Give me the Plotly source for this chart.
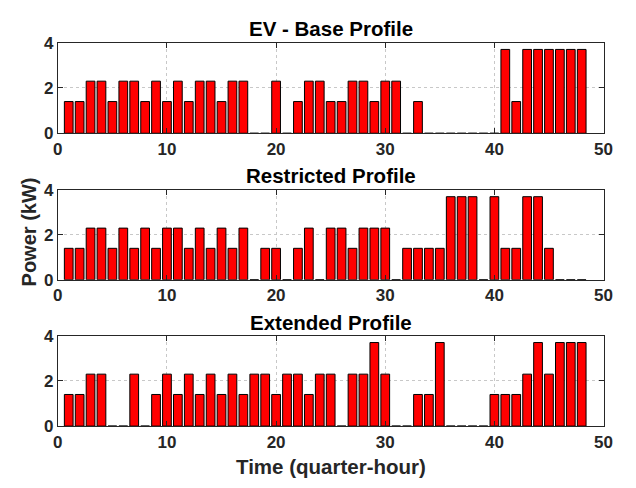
import plotly.graph_objects as go

# Charging power per quarter-hour slot (kW)
slots = list(range(1, 49))

base_profile = [1.4, 1.4, 2.3, 2.3, 1.4, 2.3, 2.3, 1.4, 2.3, 1.4,
                2.3, 1.4, 2.3, 2.3, 1.4, 2.3, 2.3, 0, 0, 2.3,
                0, 1.4, 2.3, 2.3, 1.4, 1.4, 2.3, 2.3, 1.4, 2.3,
                2.3, 0, 1.4, 0, 0, 0, 0, 0, 0, 0,
                3.7, 1.4, 3.7, 3.7, 3.7, 3.7, 3.7, 3.7]

restricted_profile = [1.4, 1.4, 2.3, 2.3, 1.4, 2.3, 1.4, 2.3, 1.4, 2.3,
                      2.3, 1.4, 2.3, 1.4, 2.3, 1.4, 2.3, 0, 1.4, 1.4,
                      0, 1.4, 2.3, 0, 2.3, 2.3, 1.4, 2.3, 2.3, 2.3,
                      0, 1.4, 1.4, 1.4, 1.4, 3.7, 3.7, 3.7, 0, 3.7,
                      1.4, 1.4, 3.7, 3.7, 1.4, 0, 0, 0]

extended_profile = [1.4, 1.4, 2.3, 2.3, 0, 0, 2.3, 0, 1.4, 2.3,
                    1.4, 2.3, 1.4, 2.3, 1.4, 2.3, 1.4, 2.3, 2.3, 1.4,
                    2.3, 2.3, 1.4, 2.3, 2.3, 0, 2.3, 2.3, 3.7, 2.3,
                    0, 0, 1.4, 1.4, 3.7, 0, 0, 0, 0, 1.4,
                    1.4, 1.4, 2.3, 3.7, 2.3, 3.7, 3.7, 3.7]

panel_titles = ["EV - Base Profile", "Restricted Profile", "Extended Profile"]
profiles = [base_profile, restricted_profile, extended_profile]

x_ticks = [0, 10, 20, 30, 40, 50]
y_ticks = [0, 2, 4]

W, H = 636, 488
x_left, x_right = 54, 612
# (top, bottom) pixel rows of each panel
panel_rows = [(35, 129.3), (188.3, 281.7), (340, 434)]
title_rows = [20, 173, 326]

FONT = "Liberation Sans, Arial, sans-serif"
INK = "#262626"

fig = go.Figure()
layout = dict(
    width=W, height=H,
    margin=dict(l=0, r=0, t=0, b=0),
    paper_bgcolor="white", plot_bgcolor="white",
    showlegend=False,
    bargap=0.2,
    font=dict(family=FONT, color=INK, size=17, weight="bold"),
    annotations=[],
)

for i, (vals, title) in enumerate(zip(profiles, panel_titles)):
    n = i + 1
    xa = "x" if n == 1 else f"x{n}"
    ya = "y" if n == 1 else f"y{n}"
    fig.add_trace(go.Bar(
        x=slots, y=vals, xaxis=xa, yaxis=ya,
        width=0.8,
        marker=dict(color="#FF0000", line=dict(color="black", width=1)),
        hoverinfo="x+y",
    ))
    top, bot = panel_rows[i]
    axis_common = dict(
        showline=True, linecolor=INK, linewidth=1, mirror="ticks",
        ticks="inside", ticklen=5, tickcolor=INK,
        showgrid=True, gridcolor="#c8c8c8", griddash="dot", gridwidth=1,
        zeroline=False,
        tickfont=dict(family=FONT, color=INK, size=17, weight="bold"),
    )
    layout["xaxis" if n == 1 else f"xaxis{n}"] = dict(
        axis_common, domain=[x_left / W, x_right / W], range=[0, 50],
        tickvals=x_ticks, anchor=ya,
    )
    layout["yaxis" if n == 1 else f"yaxis{n}"] = dict(
        axis_common, domain=[1 - bot / H, 1 - top / H], range=[0, 4],
        tickvals=y_ticks, anchor=xa,
    )
    layout["annotations"].append(dict(
        text=title, xref="paper", yref="paper",
        x=(x_left + x_right) / 2 / W, y=1 - title_rows[i] / H,
        xanchor="center", yanchor="middle", showarrow=False,
        font=dict(family=FONT, color="black", size=20.5, weight="bold"),
    ))

layout["annotations"].append(dict(
    text="Power (kW)", xref="paper", yref="paper",
    x=24 / W, y=1 - 232 / H, textangle=-90,
    xanchor="center", yanchor="middle", showarrow=False,
    font=dict(family=FONT, color=INK, size=20, weight="bold"),
))
layout["annotations"].append(dict(
    text="Time (quarter-hour)", xref="paper", yref="paper",
    x=(x_left + x_right) / 2 / W, y=1 - 476 / H,
    xanchor="center", yanchor="middle", showarrow=False,
    font=dict(family=FONT, color=INK, size=20.5, weight="bold"),
))

fig.update_layout(**layout)
fig.write_html("out.html")
